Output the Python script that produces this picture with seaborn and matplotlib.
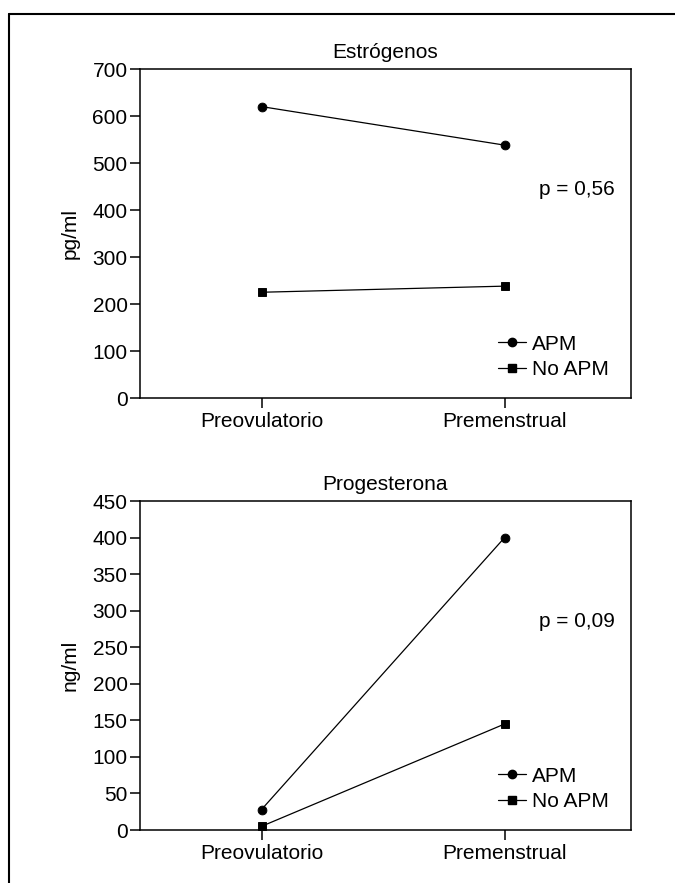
import pandas as pd
import matplotlib
matplotlib.use('Agg')
import matplotlib.pyplot as plt
from matplotlib.lines import Line2D
import seaborn as sns

# data
fases = ['Preovulatorio', 'Premenstrual']
grupos = ['APM', 'No APM']
estrogenos_apm = [620, 538]
estrogenos_no_apm = [225, 238]
progesterona_apm = [28, 400]
progesterona_no_apm = [5, 145]

sns.set_theme(style='ticks')
plt.rcParams['font.family'] = ['Liberation Sans', 'DejaVu Sans']
plt.rcParams['axes.linewidth'] = 1.1
plt.rcParams['xtick.major.width'] = 1.1
plt.rcParams['ytick.major.width'] = 1.1
plt.rcParams['xtick.major.size'] = 7
plt.rcParams['ytick.major.size'] = 7
plt.rcParams['xtick.major.pad'] = 3
plt.rcParams['ytick.major.pad'] = 2
plt.rcParams['xtick.color'] = 'black'
plt.rcParams['ytick.color'] = 'black'
plt.rcParams['axes.edgecolor'] = 'black'
plt.rcParams['text.color'] = 'black'
plt.rcParams['axes.labelcolor'] = 'black'

FS = 15

W, H = 675, 883
fig = plt.figure(figsize=(W / 100, H / 100), dpi=100)

# outer frame (top and left only)
fig.add_artist(Line2D([9 / W, 1.0], [1 - 14 / H, 1 - 14 / H], color='black', lw=1.5))
fig.add_artist(Line2D([9 / W, 9 / W], [1 - 14 / H, 0.0], color='black', lw=1.5))


def panel(rect, apm, no_apm, titulo, ylabel, ymax, step, ptext):
    ax = fig.add_axes(rect)
    df = pd.DataFrame({
        'fase': fases * 2,
        'valor': apm + no_apm,
        'grupo': [grupos[0]] * 2 + [grupos[1]] * 2,
    })
    sns.pointplot(data=df, x='fase', y='valor', hue='grupo', order=fases,
                  hue_order=grupos, palette=['black', 'black'],
                  markers=['o', 's'], linestyles=['-', '-'],
                  markersize=6.3, linewidth=0.9, ax=ax, legend=False)
    ax.set_xlim(-0.5, 1.52)
    ax.set_ylim(0, ymax)
    ax.set_yticks(range(0, ymax + 1, step))
    ax.tick_params(axis='both', labelsize=FS, direction='out')
    ax.set_xlabel('')
    ax.set_ylabel(ylabel, fontsize=FS, labelpad=9)
    ax.set_title(titulo, fontsize=FS, pad=8)
    for s in ax.spines.values():
        s.set_visible(True)
        s.set_color('black')
    ax.text(0.89, 0.635, ptext, transform=ax.transAxes, fontsize=FS,
            ha='center', va='center')
    handles = [
        Line2D([], [], color='black', lw=0.9, marker='o', markersize=6),
        Line2D([], [], color='black', lw=0.9, marker='s', markersize=6),
    ]
    ax.legend(handles, grupos, loc='lower right', frameon=False, fontsize=FS,
              handlelength=1.3, handletextpad=0.3, labelspacing=0.3,
              borderaxespad=0.2, bbox_to_anchor=(0.98, 0.02))
    return ax


panel([140 / W, 1 - 398 / H, 491 / W, 329 / H], estrogenos_apm, estrogenos_no_apm,
      'Estrógenos', 'pg/ml', 700, 100, 'p = 0,56')
panel([140 / W, 1 - 830 / H, 491 / W, 329 / H], progesterona_apm, progesterona_no_apm,
      'Progesterona', 'ng/ml', 450, 50, 'p = 0,09')

fig.savefig('out.png', dpi=100)
